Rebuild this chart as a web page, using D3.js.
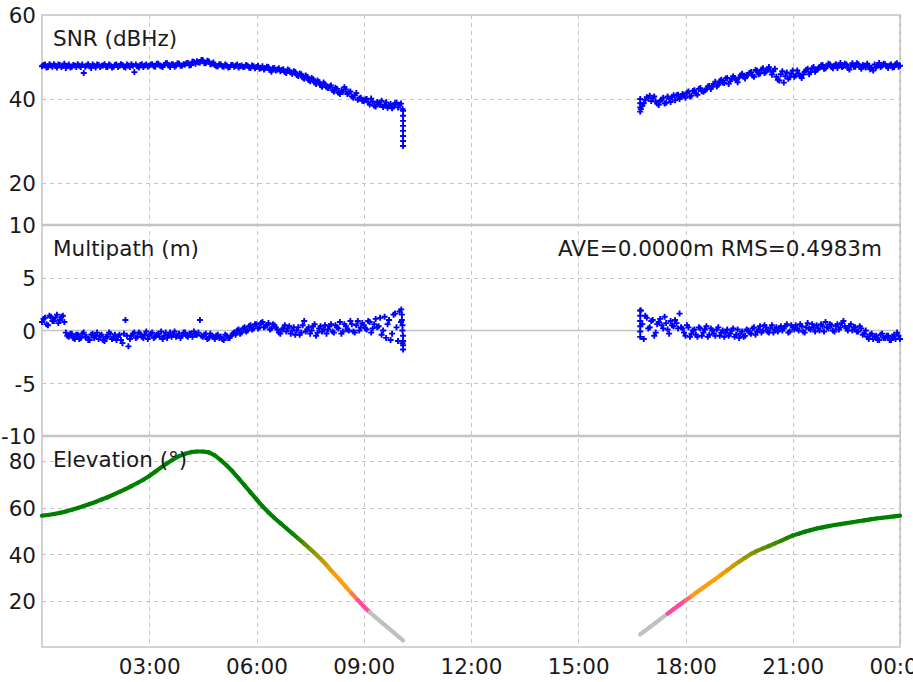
<!DOCTYPE html>
<html>
<head>
<meta charset="utf-8">
<script src="https://cdn.jsdelivr.net/npm/d3@7"></script>
<style>
  body { margin: 0; background: #ffffff; }
  svg { display: block; }
  text { font-family: "DejaVu Sans", Verdana, sans-serif; fill: #1a1a1a; }
</style>
</head>
<body>
<svg id="chart" width="913" height="682"></svg>
<script>
// ---- Observation epochs (minutes of day) ----
// each pass is stored as two interleaved 5-minute epoch sets (on the minute / +2.5 min)
const passAStart = 0, passAEnd = 605;
const passBStart = 1005, passBEnd = 1440;
const epochStep = 5, epochOffset = 2.5;

// SNR (dBHz)
const snrA = [
  47.8, 48.2, 47.6, 48.0, 48.3, 47.5, 48.1, 47.9, 47.4, 48.2, 47.7, 48.0,
  48.3, 47.6, 46.2, 48.0, 47.8, 48.2, 47.5, 48.1, 47.9, 48.3, 47.6, 48.0,
  47.7, 48.2, 47.9, 48.1, 47.5, 48.0, 48.3, 46.4, 47.8, 48.1, 47.6, 48.2,
  47.9, 48.3, 47.7, 48.4, 47.8, 48.1, 48.5, 47.6, 48.2, 48.0, 48.4, 47.9,
  48.2, 48.6, 48.1, 48.8, 49.0, 48.7, 49.2, 48.6, 48.9, 48.4, 48.1, 47.8,
  48.2, 47.7, 48.0, 47.6, 48.1, 47.9, 47.5, 48.0, 47.7, 47.9, 47.4, 47.8,
  47.6, 47.2, 47.8, 47.3, 47.6, 46.5, 47.4, 47.0, 46.6, 47.1, 46.2, 46.8,
  46.0, 46.4, 45.5, 45.9, 44.8, 45.3, 44.2, 44.7, 43.6, 44.0, 42.9, 43.5,
  42.6, 43.2, 41.8, 42.4, 41.2, 41.7, 42.3, 41.5, 40.6, 40.9, 39.8, 40.3,
  39.5, 40.0, 38.7, 39.4, 38.2, 38.9, 39.6, 38.5, 37.9, 38.8, 38.2, 39.1,
  38.6, 37.6
];
const snrA2 = [
  48.1, 47.5, 48.3, 47.7, 47.9, 48.2, 47.6, 48.4, 47.8, 47.5, 48.1, 47.6,
  47.9, 48.2, 47.7, 48.3, 47.4, 47.9, 48.2, 47.6, 48.0, 47.7, 48.2, 47.5,
  48.1, 47.6, 48.3, 47.7, 48.2, 47.6, 47.9, 48.2, 47.5, 48.3, 48.0, 47.7,
  48.2, 47.8, 48.4, 48.0, 47.6, 48.5, 48.0, 48.3, 47.7, 48.5, 47.9, 48.3,
  48.5, 48.0, 48.9, 48.4, 48.7, 49.3, 48.5, 49.1, 48.3, 48.7, 47.8, 48.3,
  47.8, 48.2, 47.5, 48.1, 47.7, 48.2, 47.8, 47.6, 48.1, 47.5, 48.0, 47.3,
  47.9, 47.4, 47.0, 47.7, 46.9, 47.3, 46.8, 47.3, 46.9, 46.4, 47.0, 46.3,
  46.6, 45.7, 46.1, 45.1, 45.6, 44.5, 45.0, 43.9, 44.4, 43.3, 43.9, 42.8,
  43.0, 42.1, 42.7, 41.5, 42.0, 42.8, 41.2, 41.8, 40.3, 41.4, 40.1, 39.6,
  39.9, 39.2, 40.1, 38.4, 39.3, 38.6, 38.1, 39.2, 38.4, 37.8, 39.0, 38.0,
  38.9
];
const snrB = [
  37.6, 39.0, 40.4, 40.8, 40.2, 39.4, 38.6, 39.8, 38.9, 40.6, 39.3, 40.9,
  40.9, 40.0, 41.2, 40.3, 41.8, 40.8, 42.1, 41.0, 42.6, 41.7, 42.3, 43.1,
  42.9, 44.1, 43.4, 44.6, 43.8, 45.0, 44.2, 45.4, 44.6, 45.1, 46.0, 44.9,
  45.8, 46.4, 45.3, 46.7, 46.1, 47.3, 46.5, 47.6, 45.8, 47.2, 44.6, 45.9,
  43.9, 46.3, 45.2, 46.8, 45.6, 46.1, 45.0, 46.5, 47.2, 46.4, 47.6, 46.9,
  47.5, 48.1, 47.3, 48.4, 47.6, 48.0, 47.4, 48.6, 47.8, 48.2, 47.0, 48.5,
  47.7, 48.3, 47.2, 47.9, 48.4, 47.1, 46.8, 47.5, 48.6, 47.9, 48.3, 47.4,
  48.2, 47.6, 48.5, 47.9
];
const snrB2 = [
  38.4, 39.8, 40.1, 39.5, 40.6, 38.9, 39.6, 40.3, 39.1, 40.0, 40.5, 39.7,
  41.0, 40.5, 40.9, 41.5, 40.6, 41.9, 41.3, 42.4, 41.9, 42.0, 43.0, 42.4,
  43.6, 43.0, 44.2, 43.9, 44.9, 43.6, 44.8, 45.0, 44.0, 45.6, 45.3, 45.7,
  46.2, 45.6, 46.9, 45.9, 47.0, 46.2, 47.1, 46.8, 46.6, 45.3, 44.4, 46.6,
  45.4, 44.8, 46.0, 45.3, 46.8, 45.4, 45.8, 46.9, 45.9, 47.3, 46.5, 47.2,
  48.0, 47.2, 47.9, 48.2, 47.3, 48.3, 47.9, 47.6, 48.4, 47.4, 48.0, 47.7,
  48.5, 47.6, 48.1, 47.5, 47.9, 47.4, 48.2, 48.0, 47.6, 48.4, 47.8, 48.0,
  47.5, 48.3, 47.7
];
// extra SNR epochs at the pass edges (loss of lock / acquisition)
const snrEdgeMin = [606, 606, 606, 606, 606, 606, 606, 606, 1004, 1004, 1004, 1004];
const snrEdgeVal = [37.2, 36.0, 34.8, 33.6, 32.4, 31.2, 30.0, 28.8, 37.0, 38.0, 39.0, 40.0];

// Multipath (m)
const mpA = [
  0.8, 1.2, 0.5, 1.3, 0.9, 1.5, 1.0, 1.4, -0.2, -0.6, -0.3, -0.8,
  -0.4, -0.7, -0.2, -0.6, -0.9, -0.3, -0.5, -0.8, -0.4, -1.0, -0.6, -0.3,
  -0.7, -0.9, -0.4, -1.2, 1.0, -1.5, -0.5, -0.2, -0.6, -0.3, -0.7, -0.1,
  -0.5, -0.2, -0.6, -0.3, -0.1, -0.5, -0.7, -0.2, -0.4, -0.6, -0.3, -0.5,
  -0.2, -0.6, -0.3, -0.1, -0.4, 1.0, -0.6, -0.3, -0.7, -0.5, -0.8, -0.4,
  -0.6, -0.9, -0.5, -0.7, -0.3, -0.4, 0.1, -0.2, 0.3, 0.0, 0.5, 0.2,
  0.6, 0.3, 0.8, 0.4, 0.7, 0.2, 0.5, 0.1, -0.3, 0.2, -0.1, 0.4,
  0.0, -0.4, 0.3, -0.2, 0.9, 0.1, -0.3, 0.4, -0.5, 0.2, -0.1, 0.5,
  0.1, 0.6, -0.2, 0.3, 0.8, -0.1, 0.4, 0.0, 0.6, -0.2, 0.9, 0.3,
  0.5, 0.1, 0.8, 0.2, 1.1, 0.4, -0.4, 1.3, 0.6, -0.9, 1.5, 0.3,
  1.8, -1.2
];
const mpA2 = [
  1.1, 0.6, 1.4, 0.9, 1.2, 0.7, 1.3, 0.8, -0.5, -0.3, -0.7, -0.4,
  -0.8, -0.3, -0.6, -0.9, -0.4, -0.7, -0.2, -0.5, -0.9, -0.6, -0.2, -0.8,
  -0.4, -0.6, -0.9, -0.3, -0.5, -0.8, -0.3, -0.7, -0.2, -0.6, -0.4, -0.8,
  -0.3, -0.7, -0.4, -0.6, -0.8, -0.2, -0.4, -0.6, -0.1, -0.5, -0.7, -0.2,
  -0.5, -0.3, -0.6, -0.4, -0.2, -0.5, -0.4, -0.8, -0.3, -0.6, -0.5, -0.7,
  -0.8, -0.4, -0.7, -0.5, -0.2, 0.0, -0.3, 0.2, -0.1, 0.4, 0.1, 0.6,
  0.2, 0.7, 0.3, 0.5, 0.1, 0.6, 0.3, -0.2, 0.1, 0.5, 0.2, -0.3,
  0.3, 0.0, -0.4, 0.5, -0.1, 0.3, 0.0, 0.6, -0.2, 0.4, 0.1, -0.3,
  0.4, -0.1, 0.5, 0.2, -0.3, 0.6, 0.1, 0.9, -0.1, 0.5, 0.0, 0.7,
  0.2, 0.9, -0.2, 0.6, 0.3, 1.2, 0.0, -0.7, 1.0, -0.3, 1.6, -1.0,
  0.8
];
const mpB = [
  1.9, -0.8, 1.2, 0.3, 1.0, -0.2, 0.8, 0.5, 1.3, 0.1, 0.9, 0.4,
  0.7, 1.6, 0.2, -0.5, 0.3, -0.3, 0.1, -0.6, 0.2, -0.2, 0.4, -0.4,
  0.0, -0.5, 0.3, -0.2, -0.6, 0.1, -0.3, 0.2, -0.4, -0.7, -0.1, -0.5,
  0.0, -0.3, 0.3, -0.1, 0.4, 0.0, 0.3, -0.2, 0.5, 0.1, -0.1, 0.4,
  0.2, 0.6, -0.1, 0.3, 0.5, 0.0, 0.4, -0.2, 0.7, 0.1, 0.3, 0.5,
  0.0, 0.4, 0.8, 0.2, 0.5, -0.1, 0.6, 0.3, 0.9, 0.2, 0.4, 0.0,
  0.3, -0.1, 0.2, -0.3, -0.6, -0.4, -0.8, -0.5, -0.9, -0.3, -0.7, -0.5,
  -0.9, -0.4, -0.2, -0.8
];
const mpB2 = [
  0.6, 1.4, 0.2, 0.9, -0.5, 0.6, 1.1, 0.2, 0.7, -0.3, 0.5, 1.0,
  0.2, 0.3, -0.2, 0.5, -0.6, 0.0, -0.4, 0.3, -0.5, 0.1, -0.6, 0.2,
  -0.3, 0.1, -0.5, 0.0, -0.2, -0.5, 0.0, -0.6, 0.1, -0.3, -0.6, 0.1,
  -0.2, 0.2, -0.4, 0.1, -0.2, 0.5, -0.1, 0.2, -0.2, 0.3, 0.2, 0.0,
  0.4, -0.2, 0.5, 0.1, 0.2, 0.6, -0.1, 0.3, 0.2, 0.6, -0.1, 0.2,
  0.6, -0.1, 0.3, 0.6, 0.0, 0.4, 0.1, 0.7, 0.4, 0.0, 0.6, 0.3,
  -0.1, 0.4, -0.4, 0.0, -0.8, -0.3, -0.6, -0.9, -0.4, -0.7, -0.5, -0.9,
  -0.6, -0.8, -0.5
];
const mpEdgeMin = [603, 604, 604, 605, 605, 606, 606, 606, 606, 1004, 1004, 1004, 1004, 1004, 1004];
const mpEdgeVal = [2.0, 1.5, 1.0, 0.5, 0.0, -0.5, -1.0, -1.4, -1.8, 1.9, 1.4, 0.9, 0.4, -0.1, -0.6];
const mpAve = 0.0000, mpRms = 0.4983;

// Elevation (deg), 10-minute track points
const elevMinA = [0, 10, 20, 30, 40, 50, 60, 70, 80, 90, 100, 110, 120, 130, 140, 150,
  160, 170, 180, 190, 200, 210, 220, 230, 240, 250, 260, 270, 280, 290, 300, 310,
  320, 330, 340, 350, 360, 370, 380, 390, 400, 410, 420, 430, 440, 450, 460, 470,
  480, 490, 500, 510, 520, 530, 540, 550, 560, 570, 580, 590, 600, 606];
const elevA = [56.5, 56.8, 57.2, 57.7, 58.3, 59.0, 59.8, 60.6, 61.5, 62.4, 63.4, 64.4,
  65.5, 66.7, 67.9, 69.2, 70.5, 71.9, 73.5, 75.3, 77.2, 79.0, 80.6, 82.0, 83.0, 83.7,
  84.0, 84.0, 83.6, 82.3, 80.3, 78.0, 75.4, 72.5, 69.5, 66.5, 63.5, 60.5, 57.9, 55.5,
  53.3, 51.1, 48.9, 46.7, 44.5, 42.2, 39.9, 37.4, 34.6, 31.7, 28.9, 26.0, 23.1, 20.3,
  17.6, 15.1, 12.9, 10.8, 8.6, 6.5, 4.3, 3.0];
const elevMinB = [1004, 1010, 1020, 1030, 1040, 1050, 1060, 1070, 1080, 1090, 1100,
  1110, 1120, 1130, 1140, 1150, 1160, 1170, 1180, 1190, 1200, 1210, 1220, 1230, 1240,
  1250, 1260, 1270, 1280, 1290, 1300, 1310, 1320, 1330, 1340, 1350, 1360, 1370, 1380,
  1390, 1400, 1410, 1420, 1430, 1440];
const elevB = [5.6, 6.8, 8.7, 10.6, 12.6, 14.5, 16.4, 18.3, 20.2, 22.0, 23.9, 25.7,
  27.5, 29.3, 31.2, 33.1, 35.0, 36.8, 38.5, 40.1, 41.4, 42.5, 43.5, 44.6, 45.7, 46.9,
  48.0, 48.8, 49.6, 50.3, 51.0, 51.5, 52.0, 52.5, 52.9, 53.3, 53.7, 54.1, 54.5, 54.9,
  55.3, 55.6, 55.9, 56.2, 56.5];

// Track colour by elevation
const elevColorStops = [14.9, 15, 20, 23, 31, 40, 49];
const elevColors = ['#c0c0c0', '#ff46a6', '#ff4c98', '#ff9a18', '#ffa000', '#8f9800', '#008000'];

// Axes
const timeTickMin = [180, 360, 540, 720, 900, 1080, 1260, 1440];
const timeTickLabels = ['03:00', '06:00', '09:00', '12:00', '15:00', '18:00', '21:00', '00:00'];
const snrTicks = [20, 40, 60];
const mpTicks = [-10, -5, 5, 0, 10];
const elevTicks = [20, 40, 60, 80];
const panelTitles = ['SNR (dBHz)', 'Multipath (m)', 'Elevation (°)'];

// ---- Layout ----
const svg = d3.select('#chart');
const W = 913, H = 682;
const X0 = 42, X1 = 900, TOP = 15, SEP1 = 225, SEP2 = 436, BOT = 647;
const FONT = 21.5;

svg.append('rect').attr('width', W).attr('height', H).attr('fill', '#ffffff');

const x = d3.scaleLinear().domain([0, 1440]).range([X0, X1]);
const ySnr = d3.scaleLinear().domain([10, 60]).range([SEP1, TOP]);
const yMp = d3.scaleLinear().domain([-10, 10]).range([SEP2, SEP1]);
const yEl = d3.scaleLinear().domain([0, 90]).range([BOT + 0.5, 437.5]);

const gridColor = '#c6c6c6';
const grid = svg.append('g').attr('stroke', gridColor).attr('stroke-width', 1)
  .attr('stroke-dasharray', '4,4').attr('fill', 'none');

// vertical time grid
grid.selectAll('line.v').data(timeTickMin).join('line')
  .attr('x1', d => Math.round(x(d)) + 0.5).attr('x2', d => Math.round(x(d)) + 0.5)
  .attr('y1', TOP).attr('y2', BOT);

// horizontal grids
function hGrid(scale, vals) {
  grid.selectAll(null).data(vals).join('line')
    .attr('x1', X0).attr('x2', X1)
    .attr('y1', d => Math.round(scale(d)) + 0.5).attr('y2', d => Math.round(scale(d)) + 0.5);
}
hGrid(ySnr, [20, 40]);
hGrid(yMp, [-5, 5]);
hGrid(yEl, [20, 40, 60, 80]);

// multipath zero line
svg.append('line').attr('x1', X0).attr('x2', X1)
  .attr('y1', yMp(0)).attr('y2', yMp(0))
  .attr('stroke', '#c4c4c4').attr('stroke-width', 1.5);

// frame and panel separators
const frame = svg.append('g').attr('stroke', '#c4c4c4').attr('fill', 'none');
frame.append('rect').attr('x', X0).attr('y', TOP).attr('width', X1 - X0).attr('height', BOT - TOP)
  .attr('stroke-width', 1.5);
frame.selectAll('line.sep').data([SEP1, SEP2]).join('line')
  .attr('x1', X0).attr('x2', X1).attr('y1', d => d).attr('y2', d => d)
  .attr('stroke-width', 2.5);
// dashed grid overlay on the right edge (00:00)
svg.append('line').attr('x1', X1 + 0.5).attr('x2', X1 + 0.5).attr('y1', TOP).attr('y2', BOT)
  .attr('stroke', '#b8b8b8').attr('stroke-width', 1).attr('stroke-dasharray', '4,4');

// ---- Data marks ----
const epochsA = d3.range(passAStart, passAEnd + 1, epochStep);
const epochsA2 = d3.range(passAStart + epochOffset, passAEnd, epochStep);
const epochsB = d3.range(passBStart, passBEnd + 1, epochStep);
const epochsB2 = d3.range(passBStart + epochOffset, passBEnd, epochStep);

function series(mins, vals) { return mins.map((m, i) => ({ m, v: vals[i] })); }

const snrPts = [].concat(series(epochsA, snrA), series(epochsA2, snrA2),
  series(epochsB, snrB), series(epochsB2, snrB2), series(snrEdgeMin, snrEdgeVal));
const mpPts = [].concat(series(epochsA, mpA), series(epochsA2, mpA2),
  series(epochsB, mpB), series(epochsB2, mpB2), series(mpEdgeMin, mpEdgeVal));

const plus = 'M-3,0H3M0,-3V3';
function plusMarks(pts, yScale) {
  svg.append('g').attr('stroke', '#0000ff').attr('stroke-width', 1.9).attr('fill', 'none')
    .selectAll('path').data(pts).join('path')
    .attr('d', plus)
    .attr('transform', d => `translate(${x(d.m)},${yScale(d.v)})`);
}
plusMarks(snrPts, ySnr);
plusMarks(mpPts, yMp);

// elevation track, coloured by elevation
const elevColor = d3.scaleLinear().domain(elevColorStops).range(elevColors).clamp(true);
function elevTrack(mins, vals) {
  const pts = series(mins, vals);
  const segs = d3.pairs(pts);
  svg.append('g').attr('stroke-width', 4.2).attr('stroke-linecap', 'round').attr('fill', 'none')
    .selectAll('line').data(segs).join('line')
    .attr('x1', d => x(d[0].m)).attr('y1', d => yEl(d[0].v))
    .attr('x2', d => x(d[1].m)).attr('y2', d => yEl(d[1].v))
    .attr('stroke', d => elevColor((d[0].v + d[1].v) / 2));
}
elevTrack(elevMinA, elevA);
elevTrack(elevMinB, elevB);

// ---- Axes ----
function styleAxis(g) {
  g.attr('font-size', null).attr('font-family', null);
  g.select('.domain').remove();
  g.selectAll('.tick line').remove();
  g.selectAll('text').style('font-size', FONT + 'px').attr('fill', '#1a1a1a');
}
const fmt = d => String(d);
svg.append('g').attr('transform', `translate(${X0},0)`)
  .call(d3.axisLeft(ySnr).tickValues(snrTicks).tickFormat(fmt).tickSize(0).tickPadding(6))
  .call(styleAxis).selectAll('text').attr('dy', '0.37em');
svg.append('g').attr('transform', `translate(${X0},0)`)
  .call(d3.axisLeft(yMp).tickValues(mpTicks).tickFormat(fmt).tickSize(0).tickPadding(6))
  .call(styleAxis).selectAll('text').attr('dy', '0.37em');
svg.append('g').attr('transform', `translate(${X0},0)`)
  .call(d3.axisLeft(yEl).tickValues(elevTicks).tickFormat(fmt).tickSize(0).tickPadding(6))
  .call(styleAxis).selectAll('text').attr('dy', '0.37em');
svg.append('g').attr('transform', `translate(0,${BOT})`)
  .call(d3.axisBottom(x).tickValues(timeTickMin).tickFormat((d, i) => timeTickLabels[i])
    .tickSize(0).tickPadding(12))
  .call(styleAxis);

// ---- Panel titles and statistics ----
const titleY = [TOP, SEP1, SEP2].map(t => t + 31);
svg.selectAll('text.title').data(panelTitles).join('text')
  .attr('class', 'title')
  .attr('x', 53).attr('y', (d, i) => titleY[i])
  .style('font-size', FONT + 'px')
  .text(d => d);

svg.append('text')
  .attr('x', 882).attr('y', titleY[1])
  .attr('text-anchor', 'end')
  .style('font-size', FONT + 'px')
  .text(`AVE=${mpAve.toFixed(4)}m RMS=${mpRms.toFixed(4)}m`);
</script>
</body>
</html>
